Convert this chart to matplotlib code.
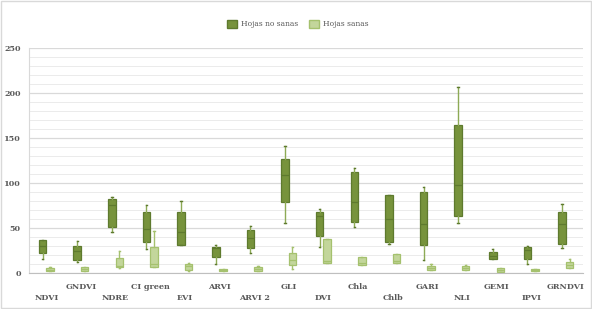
import matplotlib.pyplot as plt
from matplotlib.patches import Patch, Rectangle

# Data
indices = ['NDVI', 'GNDVI', 'NDRE', 'CI green', 'EVI', 'ARVI', 'ARVI 2', 'GLI',
           'DVI', 'Chla', 'Chlb', 'GARI', 'NLI', 'GEMI', 'IPVI', 'GRNDVI']

# Hojas no sanas: whisker low, q1, median, q3, whisker high
sick_lo = [15.6, 11.5, 45.0, 26.0, 30.8, 10.0, 21.5, 54.8, 28.2, 51.1, 31.9, 14.1, 54.8, 14.8, 9.7, 27.1]
sick_q1 = [21.5, 13.7, 51.1, 33.7, 30.8, 17.2, 27.8, 78.9, 40.8, 56.0, 34.1, 31.1, 63.3, 14.8, 15.2, 32.2]
sick_med = [29.7, 24.5, 74.8, 48.9, 45.2, 27.6, 38.2, 108.4, 63.0, 78.6, 60.0, 53.8, 97.8, 18.9, 25.2, 53.8]
sick_q3 = [36.0, 29.3, 81.9, 67.8, 67.8, 28.7, 47.0, 126.5, 67.8, 111.9, 86.7, 89.3, 164.5, 23.0, 28.2, 67.0]
sick_hi = [36.5, 34.8, 83.7, 75.2, 80.0, 30.4, 51.5, 140.8, 71.1, 116.3, 86.7, 95.6, 206.7, 26.7, 29.3, 76.7]

# Hojas sanas
healthy_lo = [1.5, 1.5, 5.0, 6.0, 2.0, 2.2, 2.2, 3.7, 10.4, 8.9, 11.1, 3.0, 3.0, 0.8, 1.5, 5.6]
healthy_q1 = [1.5, 1.5, 6.0, 6.0, 3.0, 2.2, 2.2, 8.2, 10.4, 8.9, 11.1, 3.0, 3.0, 0.8, 1.5, 5.6]
healthy_med = [3.5, 4.0, 7.0, 9.3, 7.0, 3.0, 4.0, 14.1, 13.4, 11.0, 12.5, 5.0, 5.5, 3.0, 3.0, 8.0]
healthy_q3 = [5.6, 6.0, 16.0, 28.2, 10.0, 4.0, 6.7, 21.5, 37.4, 17.8, 20.8, 7.8, 7.8, 4.9, 4.4, 12.2]
healthy_hi = [6.0, 6.5, 24.0, 46.3, 11.0, 4.0, 7.8, 28.9, 37.4, 17.8, 20.8, 10.0, 8.5, 4.9, 4.4, 15.2]

series = ['Hojas no sanas', 'Hojas sanas']

# Style
gray = '#595959'
dark_fill, dark_edge, dark_whisk = '#77933C', '#5E7A2E', '#8DAA55'
light_fill, light_edge = '#C3D69B', '#A5C16E'
font = 'DejaVu Serif'
fsize = 5.8


def stats(lo, q1, med, q3, hi):
    return [dict(whislo=a, q1=b, med=c, q3=d, whishi=e)
            for a, b, c, d, e in zip(lo, q1, med, q3, hi)]


def draw(ax, st, pos, fill, edge, whisk):
    ax.bxp(st, positions=pos, widths=0.217, showfliers=False, patch_artist=True,
           capwidths=0.04,
           boxprops=dict(facecolor=fill, edgecolor=edge, linewidth=0.9),
           medianprops=dict(color=edge, linewidth=0.9),
           whiskerprops=dict(color=whisk, linewidth=1.0),
           capprops=dict(color=edge, linewidth=1.0))


fig = plt.figure(figsize=(5.92, 3.09), dpi=100)
ax = fig.add_axes([0.049, 0.1175, 0.936, 0.728])

n = len(indices)
x = list(range(n))
draw(ax, stats(sick_lo, sick_q1, sick_med, sick_q3, sick_hi),
     [i - 0.108 for i in x], dark_fill, dark_edge, dark_whisk)
draw(ax, stats(healthy_lo, healthy_q1, healthy_med, healthy_q3, healthy_hi),
     [i + 0.108 for i in x], light_fill, light_edge, light_edge)

ax.set_xlim(-0.5, n - 0.5)
ax.set_ylim(0, 250)
ax.set_yticks(range(0, 251, 50))
ax.set_yticks(range(0, 251, 10), minor=True)
ax.grid(axis='y', which='major', color='#d9d9d9', linewidth=0.9)
ax.grid(axis='y', which='minor', color='#ebebeb', linewidth=0.7)
ax.set_axisbelow(True)

# staggered category labels
ax.set_xticks(x[0::2], indices[0::2])
ax.set_xticks(x[1::2], indices[1::2], minor=True)
ax.tick_params(axis='x', which='major', length=0, pad=15.5)
ax.tick_params(axis='x', which='minor', length=0, pad=7.5)
ax.tick_params(axis='y', which='both', length=0, pad=6)
for lab in ax.get_xticklabels(which='both') + ax.get_yticklabels():
    lab.set_fontfamily(font)
    lab.set_fontweight('bold')
    lab.set_fontsize(fsize)
    lab.set_color(gray)

for s in ['top', 'right']:
    ax.spines[s].set_visible(False)
ax.spines['left'].set_color('#d9d9d9')
ax.spines['bottom'].set_color('#bfbfbf')

handles = [Patch(facecolor=dark_fill, edgecolor=dark_edge),
           Patch(facecolor=light_fill, edgecolor=light_edge)]
leg = fig.legend(handles, series, loc='center', bbox_to_anchor=(0.503, 0.922),
                 ncol=2, frameon=False, handlelength=1.3, handleheight=1.3,
                 columnspacing=1.4, handletextpad=0.6,
                 prop=dict(family=font, size=5.4))
for t in leg.get_texts():
    t.set_color(gray)

fig.patches.append(Rectangle((0.001, 0.002), 0.997, 0.995, transform=fig.transFigure,
                             fill=False, edgecolor='#d9d9d9', linewidth=1))

fig.savefig('out.png', dpi=100)
